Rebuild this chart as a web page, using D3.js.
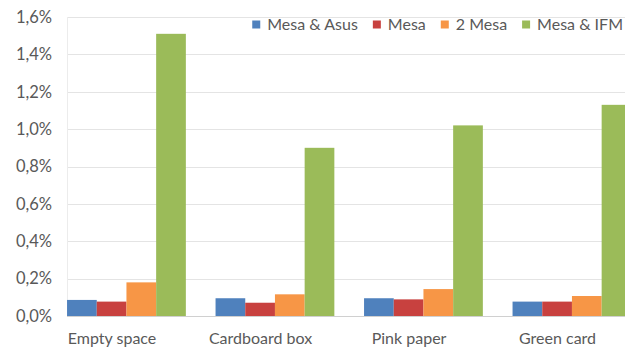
<!DOCTYPE html>
<html>
<head>
<meta charset="utf-8">
<script src="https://cdn.jsdelivr.net/npm/d3@7"></script>
<style>
  html, body { margin: 0; padding: 0; background: #fff; }
  svg { display: block; }
  text { font-family: Lato, "Open Sans", sans-serif; fill: #595959; }
</style>
</head>
<body>
<svg id="chart" width="625" height="351"></svg>
<script>
// Share of samples per background, for each setup
const categories = ["Empty space", "Cardboard box", "Pink paper", "Green card"];
const seriesNames = ["Mesa & Asus", "Mesa", "2 Mesa", "Mesa & IFM"];
const mesaAsus = [0.00086, 0.00095, 0.00095, 0.00077];
const mesa     = [0.00077, 0.00071, 0.00089, 0.00077];
const twoMesa  = [0.00180, 0.00116, 0.00144, 0.00107];
const mesaIfm  = [0.01510, 0.00900, 0.01020, 0.01130];
const yTicks = [0, 0.002, 0.004, 0.006, 0.008, 0.010, 0.012, 0.014, 0.016];
const colors = ["#4f81bd", "#c8413f", "#f79646", "#9bbb59"];

const seriesValues = [mesaAsus, mesa, twoMesa, mesaIfm];

const svg = d3.select("#chart");
const plotLeft = 67, plotRight = 625, plotTop = 17, plotBottom = 316;

const y = d3.scaleLinear().domain([0, 0.016]).range([plotBottom, plotTop]);
const x = d3.scaleBand().domain(categories)
  .range([52.2, 646.2]).paddingInner(0.2).paddingOuter(0.1);
const xs = d3.scaleBand().domain(seriesNames).range([0, x.bandwidth()]);

const pct = d3.formatLocale({ decimal: ",", thousands: ".", grouping: [3], currency: ["", "€"] }).format(".1%");

// Horizontal gridlines
svg.append("g").selectAll("line").data(yTicks).join("line")
  .attr("x1", plotLeft).attr("x2", plotRight)
  .attr("y1", d => Math.round(y(d)) + 0.5).attr("y2", d => Math.round(y(d)) + 0.5)
  .attr("stroke", d => d === 0 ? "#d0d0d0" : "#e4e4e4").attr("stroke-width", 1);

// Plot-area left edge
svg.append("line")
  .attr("x1", plotLeft + 0.5).attr("x2", plotLeft + 0.5)
  .attr("y1", plotTop).attr("y2", plotBottom)
  .attr("stroke", "#ececec");

// Y axis labels
const yAxis = d3.axisLeft(y).tickValues(yTicks).tickFormat(pct).tickSize(0).tickPadding(0);
const gy = svg.append("g").attr("transform", `translate(${plotLeft - 15},0)`).call(yAxis);
gy.select(".domain").remove();
gy.selectAll("text").style("font-size", "16.5px").style("font-family", "Lato, sans-serif").attr("fill", "#595959");

// Bars
const groups = svg.append("g").selectAll("g").data(categories).join("g")
  .attr("transform", d => `translate(${x(d)},0)`);
groups.selectAll("rect")
  .data((c, i) => seriesNames.map((s, k) => ({ s, k, v: seriesValues[k][i] })))
  .join("rect")
  .attr("x", d => xs(d.s))
  .attr("width", xs.bandwidth())
  .attr("y", d => y(d.v))
  .attr("height", d => y(0) - y(d.v))
  .attr("fill", d => colors[d.k]);

// Category labels
svg.append("g").selectAll("text").data(categories).join("text")
  .attr("x", d => x(d) + 45)
  .attr("y", 344)
  .attr("text-anchor", "middle")
  .style("font-size", "16px")
  .text(d => d);

// Legend, laid out left to right, then right-aligned to the chart edge
const legend = svg.append("g");
let lx = 0;
seriesNames.forEach((name, k) => {
  const item = legend.append("g").attr("transform", `translate(${lx},0)`);
  item.append("rect").attr("x", 0).attr("y", -4).attr("width", 8).attr("height", 8).attr("fill", colors[k]);
  const t = item.append("text").attr("x", 15).attr("y", 5.5).style("font-size", "16px").text(name);
  lx += 15 + t.node().getComputedTextLength();
  if (k < seriesNames.length - 1) lx += 15;
});
legend.attr("transform", `translate(${623 - lx},24.5)`);
</script>
</body>
</html>
